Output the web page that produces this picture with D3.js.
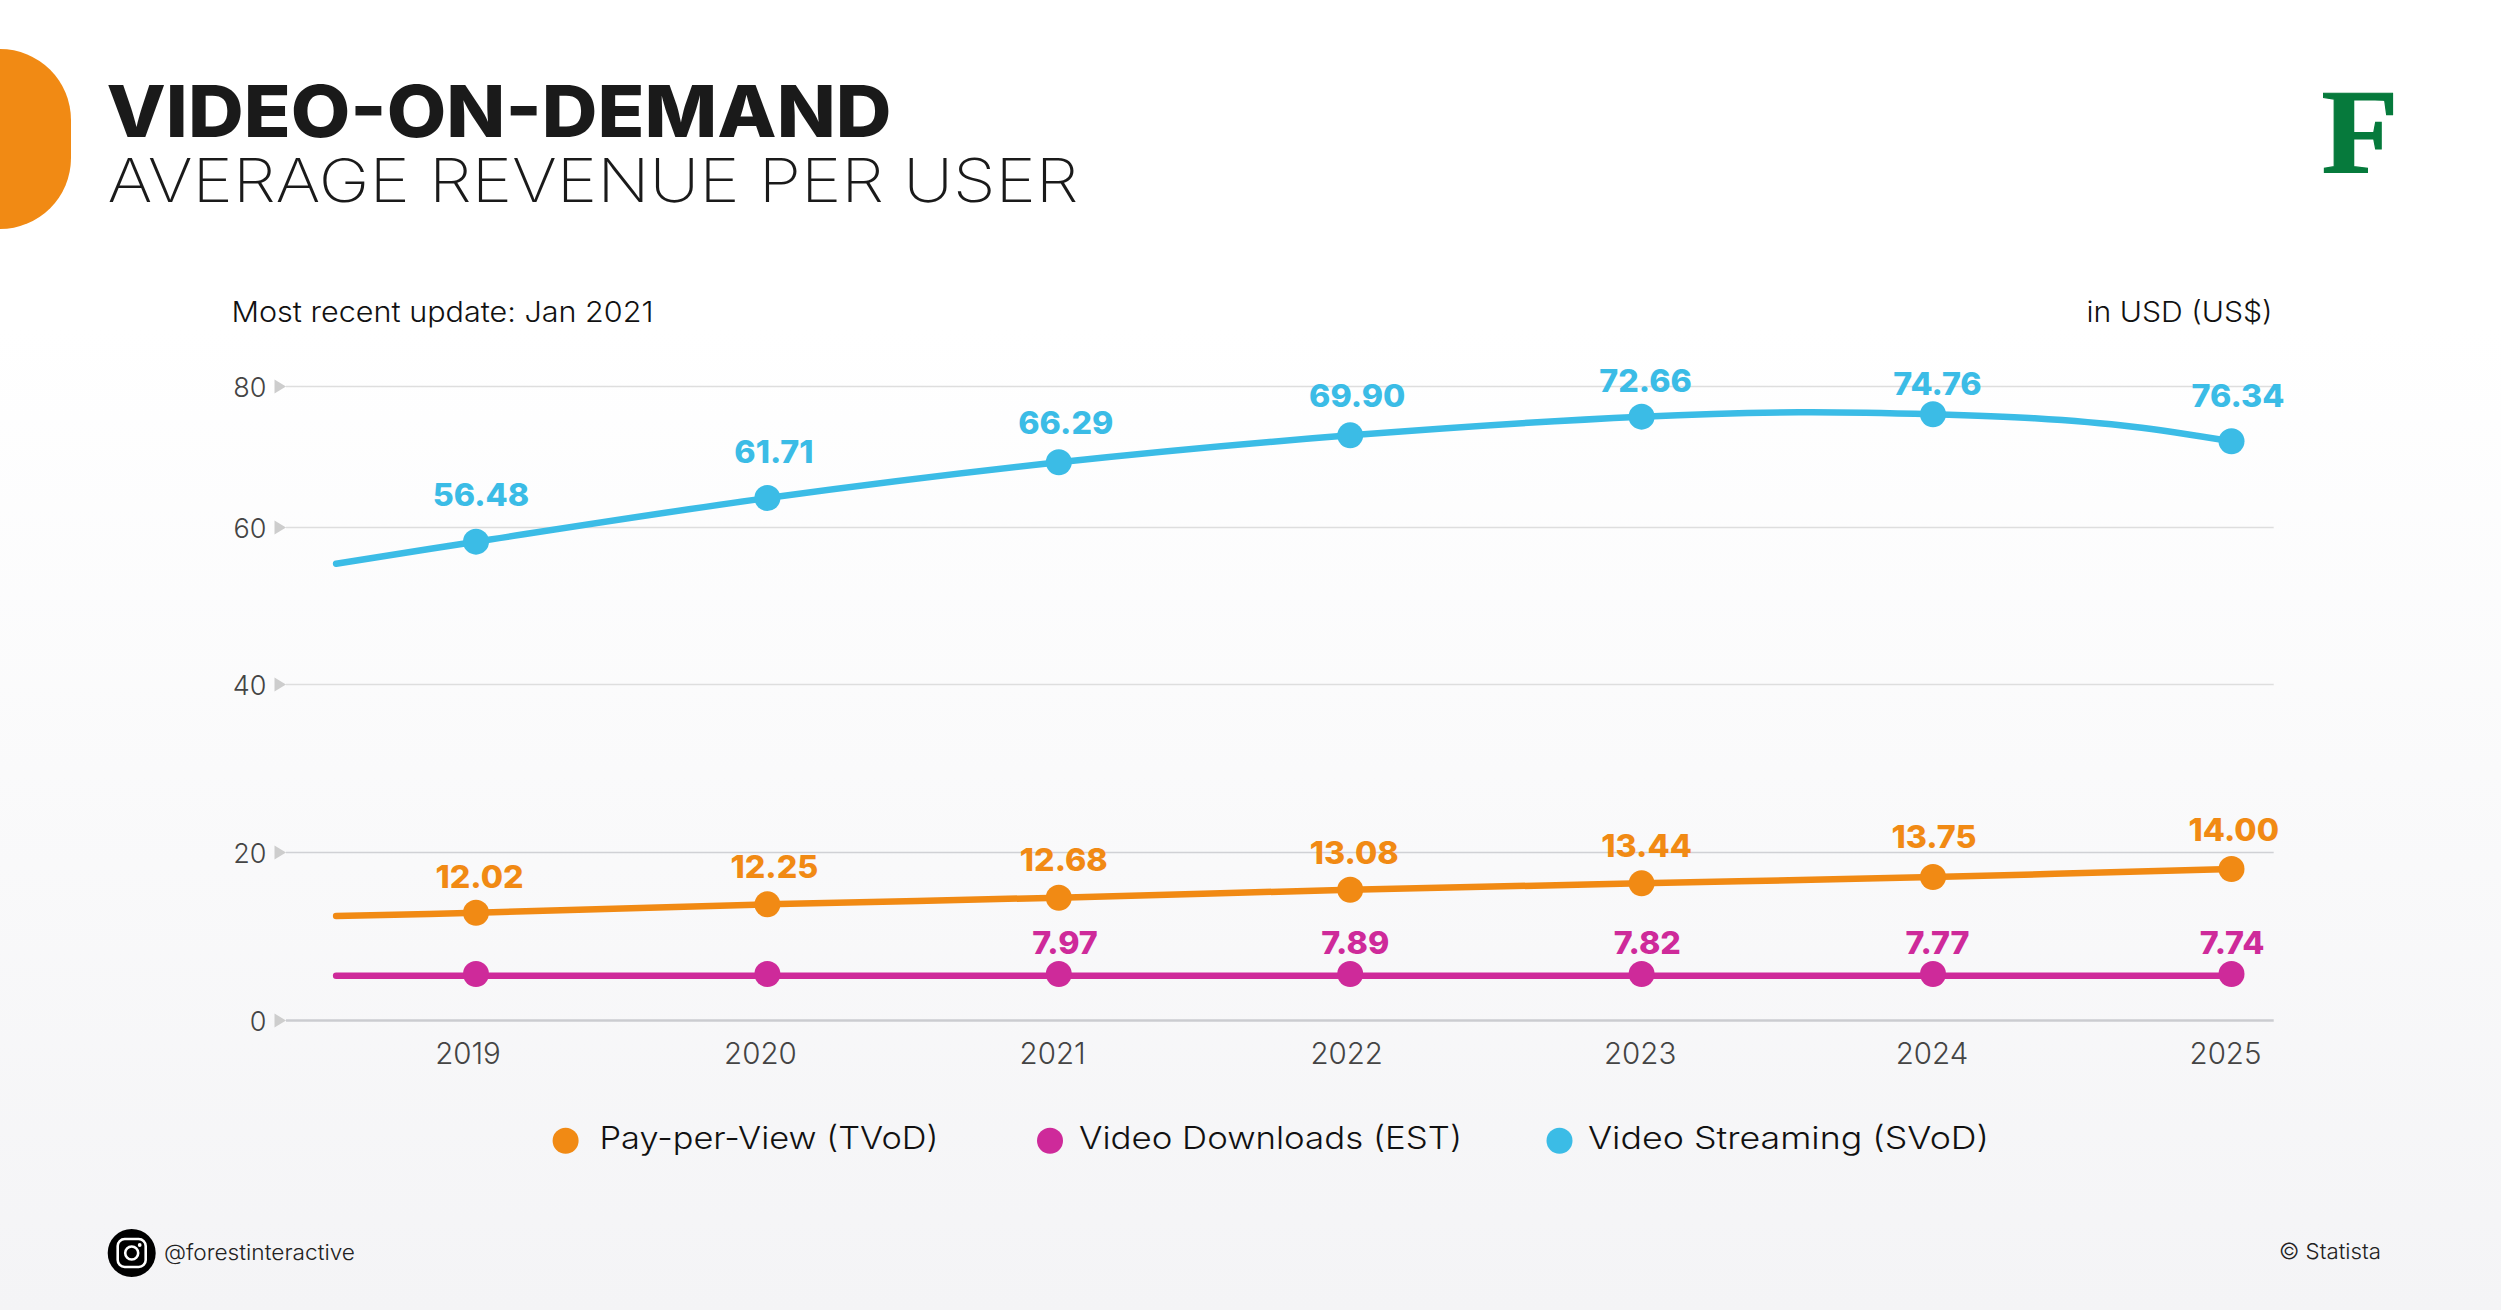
<!DOCTYPE html>
<html>
<head>
<meta charset="utf-8">
<title>Video-on-demand</title>
<script src="https://cdn.jsdelivr.net/npm/d3@7"></script>
<style>
  html, body { margin: 0; padding: 0; background: #fff; }
  svg { display: block; }
  text { font-family: Inter, "Noto Sans", sans-serif; }
</style>
</head>
<body>
<script>
// the years on the axis
var years = [2019, 2020, 2021, 2022, 2023, 2024, 2025];
var yTicks = [0, 20, 40, 60, 80];

// the numbers printed next to the dots
var tvodLabels = ["12.02", "12.25", "12.68", "13.08", "13.44", "13.75", "14.00"];
var estLabels = ["", "", "7.97", "7.89", "7.82", "7.77", "7.74"];
var svodLabels = ["56.48", "61.71", "66.29", "69.90", "72.66", "74.76", "76.34"];

// the heights of the dots as read against the axis of the picture
var tvodValues = [12.77, 13.77, 14.56, 15.51, 16.27, 17.02, 17.98];
var estValues = [5.47, 5.47, 5.47, 5.47, 5.47, 5.47, 5.47];
var svodValues = [58.13, 64.11, 69.18, 73.0, 75.65, 75.99, 72.16];

// the lines, they begin left of 2019
var tvodLineYears = [2018.52, 2019, 2020, 2021, 2022, 2023, 2024, 2025];
var tvodLine = [12.38, 12.77, 13.77, 14.56, 15.51, 16.27, 17.02, 17.98];
var estLineYears = [2018.52, 2019, 2020, 2021, 2022, 2023, 2024, 2025];
var estLine = [5.27, 5.27, 5.27, 5.27, 5.27, 5.27, 5.27, 5.27];
// the streaming line bends after 2023, so it has some extra readings there
var svodLineYears = [2018.52, 2019, 2020, 2021, 2022, 2023, 2023.54, 2024, 2024.34, 2024.67, 2025];
var svodLine = [55.32, 58.13, 64.11, 69.18, 73.0, 75.65, 76.27, 75.99, 75.42, 74.23, 72.16];

var legendNames = ["Pay-per-View (TVoD)", "Video Downloads (EST)", "Video Streaming (SVoD)"];

// label shifts from the dot, in pixels
var tvodDx = [3.6, 7, 5, 4, 5, 1, 2.3], tvodDy = [25, 26, 26.7, 25.4, 26, 29.3, 28.3];
var estDx = [0, 0, 6.3, 5, 5.7, 4.5, 0.6], estDy = [20.3, 20.3, 20.3, 20.3, 20.3, 20.3, 20.3];
var svodDx = [5, 6.5, 7, 7, 4, 4.5, 6.5], svodDy = [35.7, 35, 28.3, 28.6, 24.4, 19.6, 34.6];
// the year labels are not quite centred under the dots either
var yearDx = [-8.5, -7.5, -6.7, -4, -2, -1.5, -6.5];

var orange = "#f18a14", pink = "#ce2a9a", blue = "#3bbce6", green = "#067a3c";

var series = [
  {color: orange, dots: tvodValues, lineYears: tvodLineYears, line: tvodLine, labels: tvodLabels, dx: tvodDx, dy: tvodDy},
  {color: pink, dots: estValues, lineYears: estLineYears, line: estLine, labels: estLabels, dx: estDx, dy: estDy},
  {color: blue, dots: svodValues, lineYears: svodLineYears, line: svodLine, labels: svodLabels, dx: svodDx, dy: svodDy}
];

var width = 2501, height = 1310;

var svg = d3.select("body").append("svg")
  .attr("width", width)
  .attr("height", height);

// background runs from white to light grey
var grad = svg.append("defs").append("linearGradient")
  .attr("id", "bg").attr("x1", 0).attr("x2", 0).attr("y1", 0).attr("y2", 1);
grad.append("stop").attr("offset", "25%").attr("stop-color", "#ffffff");
grad.append("stop").attr("offset", "100%").attr("stop-color", "#f4f4f6");
svg.append("rect").attr("width", width).attr("height", height).attr("fill", "url(#bg)");

// the orange tab top left
svg.append("rect")
  .attr("x", -80).attr("y", 49).attr("width", 151).attr("height", 180)
  .attr("rx", 71).attr("ry", 71)
  .attr("fill", orange);

// puts a text on the svg and squeezes it to the measured width
function addText(x, y, str, size, weight, color, w, anchor) {
  var t = svg.append("text")
    .attr("x", x).attr("y", y)
    .attr("font-size", size)
    .attr("font-weight", weight)
    .attr("fill", color)
    .attr("text-anchor", anchor || "start")
    .text(str);
  if (w) {
    t.attr("textLength", w).attr("lengthAdjust", "spacingAndGlyphs");
  }
  return t;
}

addText(106.5, 137, "VIDEO-ON-DEMAND", 72, 800, "#1a1a1a", 785);
addText(107.5, 201.5, "AVERAGE REVENUE PER USER", 60, 200, "#1a1a1a", 971);
addText(231.5, 322, "Most recent update: Jan 2021", 28, 300, "#111", 422);
addText(2086.5, 322, "in USD (US$)", 28, 300, "#111", 186);

addText(2321.5, 173, "F", 121, 700, green, 77)
  .style("font-family", "'Liberation Serif', serif")
  .attr("stroke", green)
  .attr("stroke-width", 1.2);

// the axis is not evenly spaced in the picture, so the scales have more stops
var xScale = d3.scaleLinear()
  .domain([2019, 2024, 2025])
  .range([476, 1933, 2231.5]);

var yScale = d3.scaleLinear()
  .domain([0, 20, 40, 60, 80])
  .range([1020, 852, 684, 527, 386]);

// y axis, the long ticks are the gridlines
var yAxis = d3.axisLeft(yScale)
  .tickValues(yTicks)
  .tickSize(-(2273.7 - 286))
  .tickPadding(19.5)
  .tickFormat(d3.format("d"));

var yG = svg.append("g")
  .attr("transform", "translate(286,0)")
  .call(yAxis);
yG.select(".domain").remove();
yG.selectAll("line")
  .attr("stroke", function (d) { return d === 0 ? "#cbccd0" : (d === 20 ? "#d0d1d5" : "#dedede"); })
  .attr("stroke-width", function (d) { return d === 0 ? 2.5 : 1.5; });
yG.selectAll("text")
  .attr("dy", "0.37em")
  .attr("font-size", 27)
  .attr("font-weight", 300)
  .attr("fill", "#444");
yG.selectAll(".tick").append("path")
  .attr("d", "M-11.5,-7L0,0L-11.5,7Z")
  .attr("fill", "#cdcdcd");

// x axis, only the year labels show
var xAxis = d3.axisBottom(xScale)
  .tickValues(years)
  .tickSize(0)
  .tickPadding(0)
  .tickFormat(d3.format("d"));

var xG = svg.append("g")
  .attr("transform", "translate(0,1064)")
  .call(xAxis);
xG.select(".domain").remove();
xG.selectAll("text")
  .attr("dy", 0)
  .attr("dx", function (d, i) { return yearDx[i]; })
  .attr("font-size", 29.5)
  .attr("font-weight", 300)
  .attr("fill", "#444");

// the lines, dots and their labels
series.forEach(function (s) {
  var line = d3.line()
    .x(function (d, i) { return xScale(s.lineYears[i]); })
    .y(function (d) { return yScale(d); })
    .curve(d3.curveCatmullRom.alpha(0.5));

  svg.append("path")
    .attr("d", line(s.line))
    .attr("fill", "none")
    .attr("stroke", s.color)
    .attr("stroke-width", 6.5)
    .attr("stroke-linecap", "round");

  svg.selectAll(null)
    .data(s.dots)
    .enter()
    .append("circle")
    .attr("cx", function (d, i) { return xScale(years[i]); })
    .attr("cy", function (d) { return yScale(d); })
    .attr("r", 13)
    .attr("fill", s.color);

  s.labels.forEach(function (label, i) {
    if (label === "") { return; }
    var t = addText(xScale(years[i]) + s.dx[i], yScale(s.dots[i]) - s.dy[i], label, 31, 800, s.color, null, "middle");
    // the reference font runs a bit wider than this one
    t.attr("textLength", t.node().getComputedTextLength() * 1.04)
      .attr("lengthAdjust", "spacingAndGlyphs");
  });
});

// legend
var legendDotX = [565.6, 1050, 1559.5];
var legendTextX = [599.5, 1079, 1588];
var legendTextW = [339, 383, 401];
legendNames.forEach(function (name, i) {
  svg.append("circle")
    .attr("cx", legendDotX[i]).attr("cy", 1140.7).attr("r", 13)
    .attr("fill", series[i].color);
  addText(legendTextX[i], 1149, name, 31, 300, "#111", legendTextW[i]);
});

// footer
var ig = svg.append("g").attr("transform", "translate(131.7,1253)");
ig.append("circle").attr("r", 24).attr("fill", "#000");
ig.append("rect")
  .attr("x", -14).attr("y", -14).attr("width", 28).attr("height", 28).attr("rx", 7)
  .attr("fill", "none").attr("stroke", "#fff").attr("stroke-width", 2.6);
ig.append("circle").attr("r", 6.5)
  .attr("fill", "none").attr("stroke", "#fff").attr("stroke-width", 2.6);
ig.append("circle").attr("cx", 8).attr("cy", -8).attr("r", 1.9).attr("fill", "#fff");

addText(164, 1260, "@forestinteractive", 22, 300, "#222", 191);
addText(2279, 1259, "© Statista", 22, 300, "#222", 102);
</script>
</body>
</html>
